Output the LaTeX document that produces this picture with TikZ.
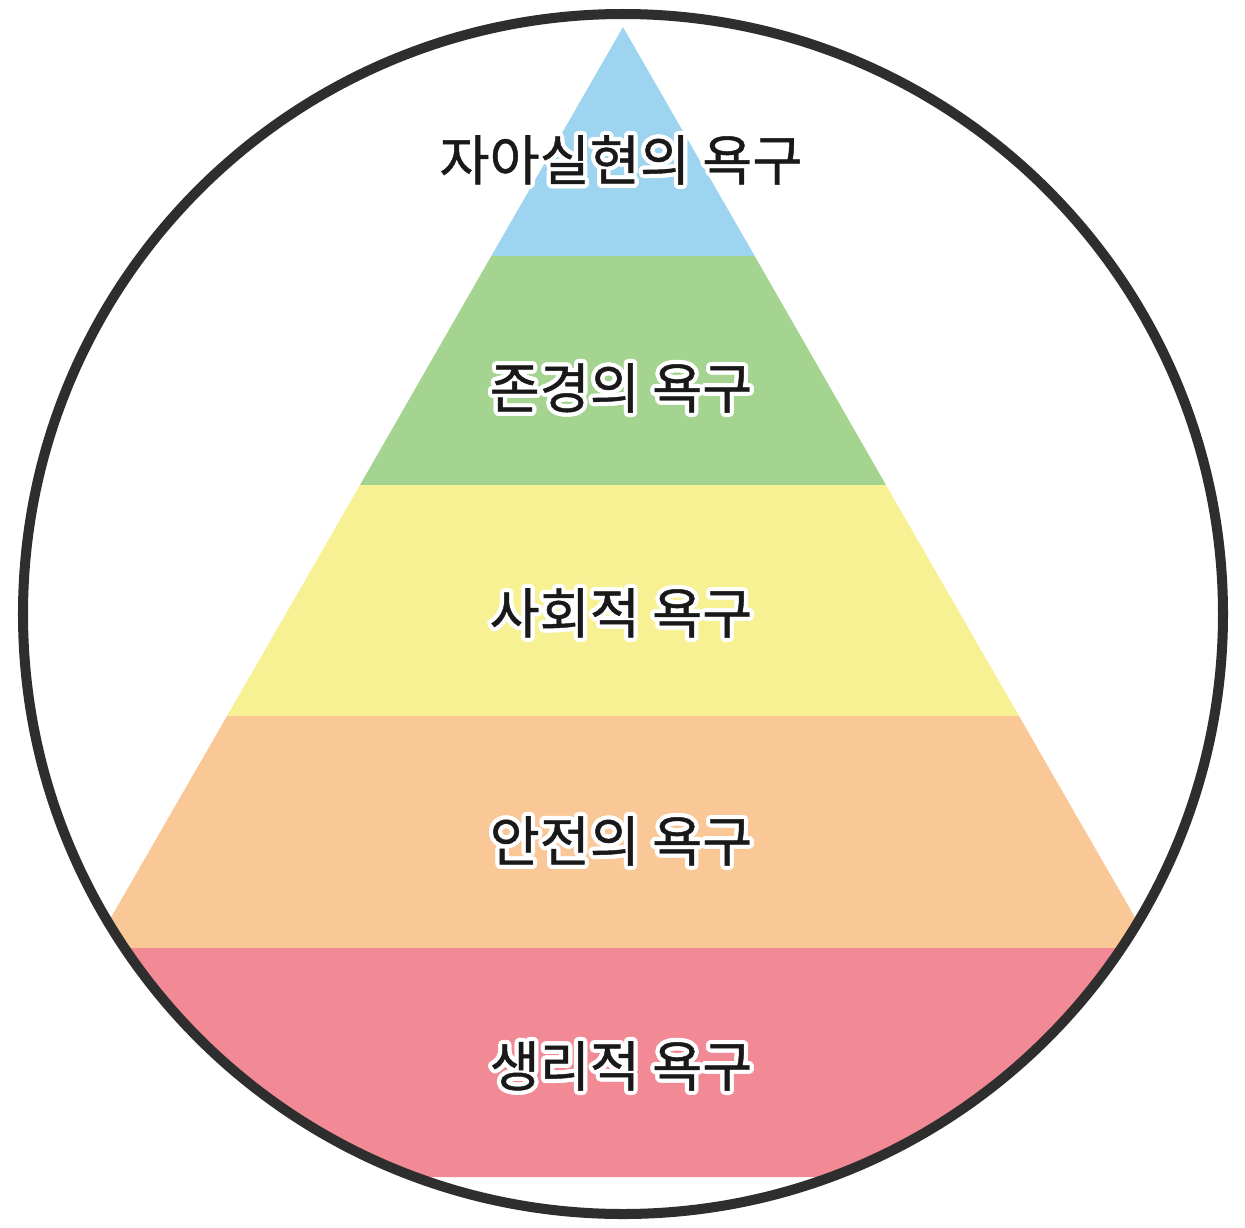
\documentclass[tikz,border=0pt]{standalone}
\usepackage{fontspec}
\usepackage{contour}
\usepackage{tikz}
\usetikzlibrary{positioning}
\newfontfamily\kofont{Noto Sans CJK KR}[FakeBold=0.8]
\contourlength{2.4pt}
\definecolor{skyband}{HTML}{9DD4F0}
\definecolor{greenband}{HTML}{A5D490}
\definecolor{yellowband}{HTML}{F8F193}
\definecolor{orangeband}{HTML}{F9C896}
\definecolor{redband}{HTML}{F28A96}
\definecolor{ringcol}{HTML}{2E2E2E}
\newcommand{\need}[1]{\contour{white}{#1}}

\begin{document}
\begin{tikzpicture}[
		x=0.02cm, y=-0.02cm,
		level/.style={font=\kofont\fontsize{31}{33}\selectfont, text=black!90, inner sep=0pt},
		ring/.style={draw=ringcol, line width=5.7pt}
		]
		
		\useasboundingbox (0,0) rectangle (1245,1228);
		
		% -------------------------
		% Pyramid bands
		% -------------------------
		\begin{scope}
			\clip (623,614) circle (600);
			\fill[skyband] (623,27) -- (754.7,256) -- (491.3,256) -- cycle;
			\fill[greenband] (491.3,256) -- (754.7,256) -- (886,485) -- (360,485) -- cycle;
			\fill[yellowband] (360,485) -- (886,485) -- (1019,716) -- (227,716) -- cycle;
			\fill[orangeband] (227,716) -- (1019,716) -- (1152.6,948) -- (93.4,948) -- cycle;
			\fill[redband] (93.4,948) -- (1152.6,948) -- (1284,1177) -- (-38,1177) -- cycle;
		\end{scope}
		
		% -------------------------
		% Labels
		% -------------------------
		\node[level] (self) at (621,162) {\need{자아실현의 욕구}};
		\node[level] (esteem) at (621,390) {\need{존경의 욕구}};
		\node[level] (social) at (621,615) {\need{사회적 욕구}};
		\node[level] (safety) at (621,843) {\need{안전의 욕구}};
		\node[level] (body) at (621,1068) {\need{생리적 욕구}};
		
		% -------------------------
		% Ring
		% -------------------------
		\draw[ring] (623,614) circle (600);
		
	\end{tikzpicture}
\end{document}
